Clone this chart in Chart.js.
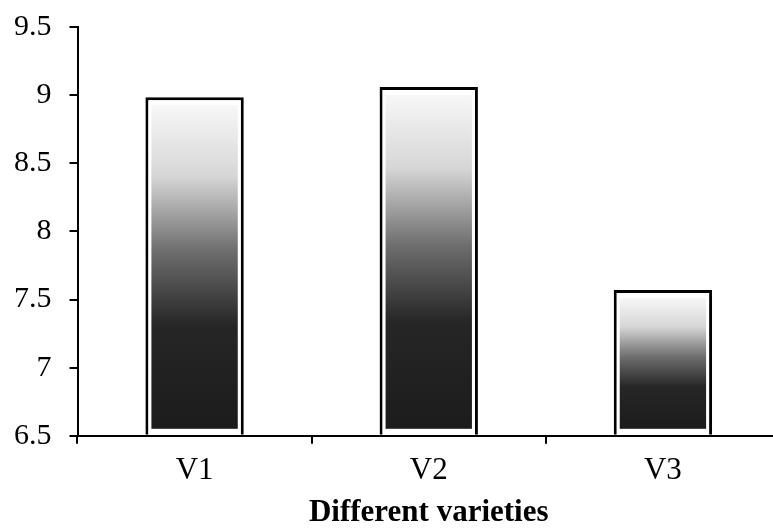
<!DOCTYPE html>
<html>
<head>
<meta charset="utf-8">
<script src="https://cdn.jsdelivr.net/npm/chart.js@4/dist/chart.umd.min.js"></script>
<style>
html,body{margin:0;padding:0;background:#fff;overflow:hidden;}
#wrap{width:782px;height:532px;position:relative;}
</style>
</head>
<body>
<div id="wrap"><canvas id="c"></canvas></div>
<script>
const categories = ['V1', 'V2', 'V3'];
const values = [8.985, 9.06, 7.57];
const yTicks = [6.5, 7, 7.5, 8, 8.5, 9, 9.5];
const xTitle = 'Different varieties';

const FONT = "'Liberation Serif', 'Times New Roman', serif";

const innerFill = {
  id: 'innerFill',
  afterDatasetsDraw(chart) {
    const ctx = chart.ctx;
    const meta = chart.getDatasetMeta(0);
    meta.data.forEach(el => {
      const p = el.getProps(['x', 'y', 'base', 'width'], true);
      const inset = 6;
      const left = p.x - p.width / 2 + inset;
      const right = p.x + p.width / 2 - inset;
      const top = p.y + inset + 2;
      const bottom = p.base - inset;
      const g = ctx.createLinearGradient(0, bottom, 0, top);
      g.addColorStop(0, '#1c1c1c');
      g.addColorStop(0.32, '#262626');
      g.addColorStop(0.55, '#6e6e6e');
      g.addColorStop(0.78, '#d6d6d6');
      g.addColorStop(1, '#f7f7f7');
      ctx.save();
      ctx.fillStyle = g;
      ctx.fillRect(left, top, right - left, bottom - top);
      ctx.restore();
    });
  }
};

new Chart(document.getElementById('c'), {
  type: 'bar',
  data: {
    labels: categories,
    datasets: [{
      data: values,
      base: 6.5,
      backgroundColor: '#ffffff',
      borderColor: '#000000',
      borderWidth: 3,
      borderSkipped: 'bottom',
      barPercentage: 0.42,
      categoryPercentage: 1
    }]
  },
  options: {
    responsive: true,
    maintainAspectRatio: false,
    animation: false,
    layout: { padding: { left: -4, top: 0, right: 2, bottom: 0 } },
    plugins: { legend: { display: false }, tooltip: { enabled: false } },
    scales: {
      x: {
        offset: true,
        grid: { display: true, offset: true, drawOnChartArea: false, tickLength: 8, color: '#000', lineWidth: 2 },
        border: { color: '#000', width: 2 },
        ticks: { color: '#000', font: { family: FONT, size: 31, lineHeight: 1.0 }, padding: 12 },
        title: { display: true, text: xTitle, color: '#000', font: { family: FONT, size: 31, weight: 'bold' }, padding: { top: -4, bottom: 0 } }
      },
      y: {
        min: 6.5,
        max: 9.5,
        afterBuildTicks(axis) { axis.ticks = yTicks.map(v => ({ value: v })); },
        grid: { display: true, drawOnChartArea: false, tickLength: 8, color: '#000', lineWidth: 2 },
        border: { color: '#000', width: 2 },
        ticks: { color: '#000', font: { family: FONT, size: 30, lineHeight: 0.6 }, padding: 18, callback: v => String(v) }
      }
    }
  },
  plugins: [innerFill]
});
</script>
</body>
</html>
